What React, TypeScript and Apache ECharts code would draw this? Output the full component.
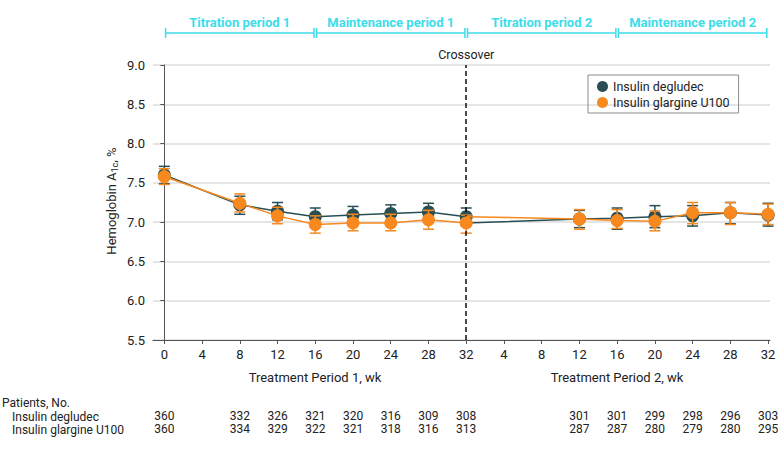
import React, { useEffect, useRef } from "react";
import * as echarts from "echarts";

// ---------- data ----------
const weeksP1 = [0, 8, 12, 16, 20, 24, 28, 32];
const weeksP2 = [44, 48, 52, 56, 60, 64]; // axis position (period-2 week + 32)

const degludecP1 = [7.6, 7.22, 7.14, 7.07, 7.09, 7.11, 7.13, 7.07];
const degludecP1Low = [7.49, 7.1, 7.03, 6.96, 6.97, 6.99, 7.02, 6.96];
const degludecP1High = [7.71, 7.33, 7.25, 7.18, 7.2, 7.22, 7.24, 7.18];

const glargineP1 = [7.58, 7.24, 7.08, 6.97, 6.99, 6.99, 7.03, 6.99];
const glargineP1Low = [7.48, 7.13, 6.98, 6.86, 6.89, 6.89, 6.91, 6.86];
const glargineP1High = [7.68, 7.36, 7.19, 7.08, 7.1, 7.1, 7.15, 7.09];

const degludecP2 = [7.04, 7.05, 7.07, 7.08, 7.12, 7.09];
const degludecP2Low = [6.93, 6.91, 6.93, 6.95, 6.98, 6.95];
const degludecP2High = [7.15, 7.18, 7.21, 7.21, 7.25, 7.24];

const glargineP2 = [7.04, 7.02, 7.01, 7.12, 7.12, 7.1];
const glargineP2Low = [6.91, 6.92, 6.89, 6.98, 6.97, 6.97];
const glargineP2High = [7.16, 7.16, 7.14, 7.25, 7.25, 7.23];

const crossoverWeek = 32;

const patientsDegludec = [360, 332, 326, 321, 320, 316, 309, 308, 301, 301, 299, 298, 296, 303];
const patientsGlargine = [360, 334, 329, 322, 321, 318, 316, 313, 287, 287, 280, 279, 280, 295];

const xTickValues = [0, 4, 8, 12, 16, 20, 24, 28, 32, 36, 40, 44, 48, 52, 56, 60, 64];
const xTickLabels = ["0", "4", "8", "12", "16", "20", "24", "28", "32", "4", "8", "12", "16", "20", "24", "28", "32"];

const periodLabels = ["Titration period 1", "Maintenance period 1", "Titration period 2", "Maintenance period 2"];
const periodStarts = [0, 16, 32, 48];
const periodEnds = [16, 32, 48, 64];

const NAME_D = "Insulin degludec";
const NAME_G = "Insulin glargine U100";
const COLOR_D = "#274f54";
const COLOR_G = "#f7891e";
const CYAN = "#3ddcea";
const FONT = "Roboto";
const Y_MIN = 5.5;
const Y_MAX = 9.0;

export default function App() {
  const ref = useRef<HTMLDivElement>(null);

  useEffect(() => {
    if (!ref.current) return;
    const chart = echarts.init(ref.current, null, { renderer: "svg" });

    const allWeeks = [...weeksP1, ...weeksP2];
    const mapD: Record<number, number> = {};
    const mapG: Record<number, number> = {};
    allWeeks.forEach((w, i) => {
      mapD[w] = patientsDegludec[i];
      mapG[w] = patientsGlargine[i];
    });
    const tickLabelMap: Record<number, string> = {};
    xTickValues.forEach((v, i) => (tickLabelMap[v] = xTickLabels[i]));

    const errData = (ws: number[], lo: number[], hi: number[]) => ws.map((w, i) => [w, lo[i], hi[i]]);

    const errSeries = (name: string, data: number[][], color: string, z: number) => ({
      type: "custom",
      name,
      z,
      data,
      encode: { x: 0, y: [1, 2] },
      renderItem: (params: any, api: any) => {
        const x = api.value(0);
        const top = api.coord([x, api.value(2)]);
        const bot = api.coord([x, api.value(1)]);
        const hw = 5.5;
        const style = { stroke: color, lineWidth: 1.5 };
        return {
          type: "group",
          children: [
            { type: "line", shape: { x1: top[0], y1: top[1], x2: bot[0], y2: bot[1] }, style },
            { type: "line", shape: { x1: top[0] - hw, y1: top[1], x2: top[0] + hw, y2: top[1] }, style },
            { type: "line", shape: { x1: bot[0] - hw, y1: bot[1], x2: bot[0] + hw, y2: bot[1] }, style },
          ],
        };
      },
    });

    const lineSeries = (name: string, data: any[], color: string, z: number, extra: any = {}) => ({
      type: "line",
      name,
      z,
      data,
      symbol: "circle",
      symbolSize: 13,
      lineStyle: { color, width: 1.5 },
      itemStyle: { color },
      ...extra,
    });

    const p1D = weeksP1.map((w, i) => [w, degludecP1[i]]);
    const p1G = weeksP1.map((w, i) => [w, glargineP1[i]]);
    // after crossover each group continues from the other arm's last value
    const p2D = [
      { value: [crossoverWeek, glargineP1[glargineP1.length - 1]], symbol: "none" },
      ...weeksP2.map((w, i) => [w, degludecP2[i]]),
    ];
    const p2G = [
      { value: [crossoverWeek, degludecP1[degludecP1.length - 1]], symbol: "none" },
      ...weeksP2.map((w, i) => [w, glargineP2[i]]),
    ];

    const periodData = periodStarts.map((s, i) => [s, periodEnds[i]]);

    const baseX = {
      type: "value",
      min: -1.2,
      max: 64.2,
      gridIndex: 0,
      position: "bottom",
    };

    const option: any = {
      animation: false,
      textStyle: { fontFamily: FONT },
      grid: { left: 153, right: 10, top: 65, bottom: 114, containLabel: false, outerBoundsMode: "none" },
      legend: {
        data: [NAME_D, NAME_G],
        orient: "vertical",
        left: 588,
        top: 75,
        icon: "circle",
        itemWidth: 11,
        itemHeight: 11,
        itemGap: 3,
        borderColor: "#8a8a8a",
        borderWidth: 1,
        padding: [5, 9, 4, 9],
        textStyle: { fontFamily: FONT, fontSize: 12.5, color: "#222" },
      },
      xAxis: [
        {
          ...baseX,
          axisLine: { show: true, onZero: false, lineStyle: { color: "#555", width: 1 } },
          axisTick: { show: true, customValues: xTickValues, length: 4, lineStyle: { color: "#555" } },
          axisLabel: {
            customValues: xTickValues,
            formatter: (v: number) => tickLabelMap[v] ?? "",
            color: "#222",
            fontSize: 13,
            fontFamily: FONT,
            margin: 8,
          },
          splitLine: { show: false },
        },
        {
          ...baseX,
          offset: 62,
          axisLine: { show: false },
          axisTick: { show: false },
          splitLine: { show: false },
          axisLabel: {
            customValues: allWeeks,
            formatter: (v: number) => (mapD[v] !== undefined ? String(mapD[v]) : ""),
            color: "#222",
            fontSize: 12,
            lineHeight: 12,
            fontFamily: FONT,
            margin: 8,
          },
        },
        {
          ...baseX,
          offset: 75,
          axisLine: { show: false },
          axisTick: { show: false },
          splitLine: { show: false },
          axisLabel: {
            customValues: allWeeks,
            formatter: (v: number) => (mapG[v] !== undefined ? String(mapG[v]) : ""),
            color: "#222",
            fontSize: 12,
            lineHeight: 12,
            fontFamily: FONT,
            margin: 8,
          },
        },
      ],
      yAxis: {
        type: "value",
        min: Y_MIN,
        max: Y_MAX,
        interval: 0.5,
        axisLine: { show: true, lineStyle: { color: "#555", width: 1 } },
        axisTick: { show: true, length: 4, lineStyle: { color: "#555" } },
        axisLabel: {
          formatter: (v: number) => v.toFixed(1),
          color: "#222",
          fontSize: 13,
          fontFamily: FONT,
          margin: 8,
        },
        splitLine: { show: true, lineStyle: { color: "#dcdcdc", width: 1.5 } },
      },
      graphic: [
        {
          type: "text",
          x: 111,
          y: 201,
          rotation: Math.PI / 2,
          style: {
            text: "Hemoglobin A{sub|1c}, %",
            fill: "#222",
            fontSize: 13,
            fontFamily: FONT,
            align: "center",
            verticalAlign: "middle",
            rich: {
              sub: { fontSize: 9, fontFamily: FONT, fill: "#222", padding: [7, 0, 0, 0] },
            },
          },
        },
        {
          type: "text",
          x: 315,
          y: 377,
          style: { text: "Treatment Period 1, wk", fill: "#222", fontSize: 13, fontFamily: FONT, align: "center", verticalAlign: "middle" },
        },
        {
          type: "text",
          x: 617,
          y: 377,
          style: { text: "Treatment Period 2, wk", fill: "#222", fontSize: 13, fontFamily: FONT, align: "center", verticalAlign: "middle" },
        },
        {
          type: "text",
          x: 2,
          y: 403,
          style: { text: "Patients, No.", fill: "#222", fontSize: 12, lineHeight: 12, fontFamily: FONT, align: "left", verticalAlign: "middle" },
        },
        {
          type: "text",
          x: 12,
          y: 417,
          style: { text: NAME_D, fill: "#222", fontSize: 12, lineHeight: 12, fontFamily: FONT, align: "left", verticalAlign: "middle" },
        },
        {
          type: "text",
          x: 12,
          y: 430,
          style: { text: NAME_G, fill: "#222", fontSize: 12, lineHeight: 12, fontFamily: FONT, align: "left", verticalAlign: "middle" },
        },
      ],
      series: [
        {
          type: "custom",
          name: "periods",
          data: periodData,
          encode: { x: [0, 1] },
          clip: false,
          silent: true,
          renderItem: (params: any, api: any) => {
            const s = api.coord([api.value(0), Y_MAX])[0];
            const e = api.coord([api.value(1), Y_MAX])[0];
            const topY = params.coordSys.y;
            const ly = topY - 32;
            const g = 1.3;
            const style = { stroke: CYAN, lineWidth: 1.5 };
            return {
              type: "group",
              children: [
                { type: "line", shape: { x1: s + g, y1: ly, x2: e - g, y2: ly }, style },
                { type: "line", shape: { x1: s + g, y1: ly - 5, x2: s + g, y2: ly + 5 }, style },
                { type: "line", shape: { x1: e - g, y1: ly - 5, x2: e - g, y2: ly + 5 }, style },
                {
                  type: "text",
                  x: (s + e) / 2,
                  y: topY - 43,
                  style: {
                    text: periodLabels[params.dataIndex],
                    fill: CYAN,
                    fontSize: 13,
                    fontWeight: "bold",
                    fontFamily: FONT,
                    align: "center",
                    verticalAlign: "middle",
                  },
                },
              ],
            };
          },
        },
        errSeries("errD1", errData(weeksP1, degludecP1Low, degludecP1High), COLOR_D, 2),
        errSeries("errD2", errData(weeksP2, degludecP2Low, degludecP2High), COLOR_D, 2),
        lineSeries(NAME_D, p1D, COLOR_D, 3),
        lineSeries(NAME_D, p2D, COLOR_D, 3),
        errSeries("errG1", errData(weeksP1, glargineP1Low, glargineP1High), COLOR_G, 4),
        errSeries("errG2", errData(weeksP2, glargineP2Low, glargineP2High), COLOR_G, 4),
        lineSeries(NAME_G, p1G, COLOR_G, 5, {
          markLine: {
            silent: true,
            symbol: "none",
            lineStyle: { color: "#111", width: 1.5, type: [5, 3] },
            label: {
              show: true,
              position: "end",
              formatter: "Crossover",
              color: "#222",
              fontSize: 12.5,
              fontFamily: FONT,
              distance: 4,
            },
            data: [{ xAxis: crossoverWeek }],
          },
        }),
        lineSeries(NAME_G, p2G, COLOR_G, 5),
      ],
    };

    chart.setOption(option);
    return () => chart.dispose();
  }, []);

  return <div ref={ref} style={{ width: 780, height: 454, position: "absolute", left: 0, top: 0 }} />;
}
